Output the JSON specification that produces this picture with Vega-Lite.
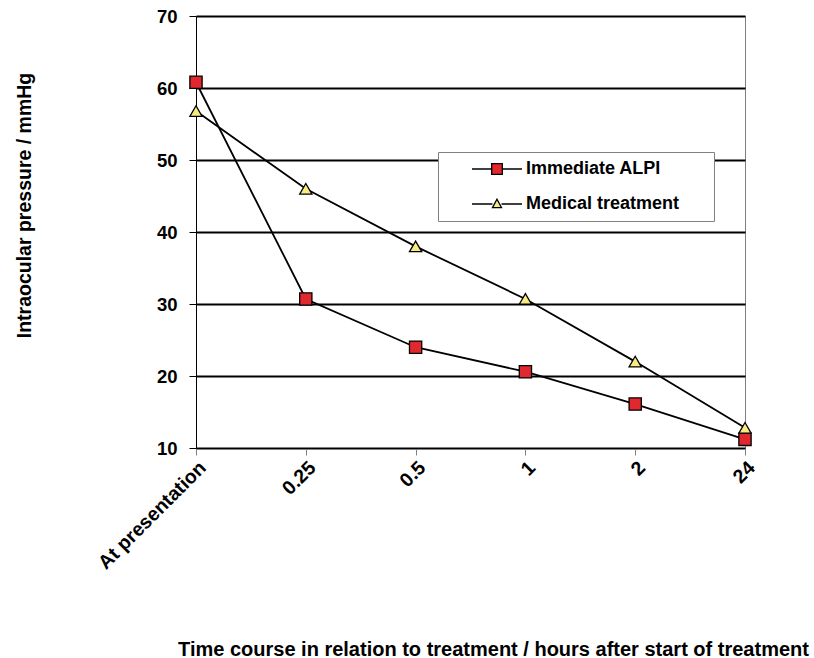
{
  "$schema": "https://vega.github.io/schema/vega-lite/v6.json",
  "width": 549,
  "height": 432,
  "autosize": "none",
  "padding": {"left": 196, "top": 16, "right": 69, "bottom": 210},
  "config": {
    "font": "Liberation Sans",
    "view": {"stroke": "#808080", "strokeWidth": 1},
    "axis": {"labelFont": "Liberation Sans", "titleFont": "Liberation Sans"},
    "legend": {"labelFont": "Liberation Sans"}
  },
  "data": {
    "values": [
      {"time": "At presentation", "series": "Immediate ALPI", "iop": 60.8},
      {"time": "0.25", "series": "Immediate ALPI", "iop": 30.7},
      {"time": "0.5", "series": "Immediate ALPI", "iop": 24.0},
      {"time": "1", "series": "Immediate ALPI", "iop": 20.6},
      {"time": "2", "series": "Immediate ALPI", "iop": 16.1},
      {"time": "24", "series": "Immediate ALPI", "iop": 11.2},
      {"time": "At presentation", "series": "Medical treatment", "iop": 56.8},
      {"time": "0.25", "series": "Medical treatment", "iop": 46.0},
      {"time": "0.5", "series": "Medical treatment", "iop": 38.0},
      {"time": "1", "series": "Medical treatment", "iop": 30.7},
      {"time": "2", "series": "Medical treatment", "iop": 22.0},
      {"time": "24", "series": "Medical treatment", "iop": 12.8}
    ]
  },
  "encoding": {
    "x": {
      "field": "time",
      "type": "ordinal",
      "sort": ["At presentation", "0.25", "0.5", "1", "2", "24"],
      "scale": {"type": "point", "padding": 0},
      "axis": {
        "title": "Time course in relation to treatment / hours after start of treatment",
        "titleFontSize": 20,
        "titleFontWeight": "bold",
        "titleColor": "#000000",
        "titleX": 297,
        "titleY": 207,
        "titleAlign": "center",
        "titleAnchor": null,
        "titleBaseline": "alphabetic",
        "labelAngle": -45,
        "labelFontSize": 19.5,
        "labelFontWeight": "bold",
        "labelColor": "#000000",
        "labelPadding": 3,
        "domainColor": "#000000",
        "domainWidth": 1,
        "tickColor": "#808080",
        "tickSize": 7,
        "grid": false
      }
    },
    "y": {
      "field": "iop",
      "type": "quantitative",
      "scale": {"domain": [10, 70], "nice": false, "zero": false},
      "axis": {
        "title": "Intraocular pressure / mmHg",
        "titleFontSize": 19.5,
        "titleFontWeight": "bold",
        "titleColor": "#000000",
        "titleX": -166,
        "titleY": 189,
        "titleAngle": -90,
        "titleAlign": "center",
        "titleAnchor": null,
        "titleBaseline": "alphabetic",
        "values": [10, 20, 30, 40, 50, 60, 70],
        "labelFontSize": 18.5,
        "labelFontWeight": "bold",
        "labelColor": "#000000",
        "labelPadding": 12,
        "domainColor": "#000000",
        "domainWidth": 1,
        "tickColor": "#000000",
        "tickSize": 7,
        "grid": true,
        "gridColor": "#000000",
        "gridWidth": 2,
        "gridOpacity": 1
      }
    }
  },
  "layer": [
    {
      "mark": {"type": "line", "color": "#000000", "strokeWidth": 1.8},
      "encoding": {"detail": {"field": "series"}}
    },
    {
      "transform": [{"filter": "datum.iop < 0"}],
      "mark": {"type": "point", "filled": true, "stroke": "#000000", "strokeWidth": 1.3, "opacity": 1, "size": 113},
      "encoding": {
        "shape": {
          "field": "series",
          "type": "nominal",
          "scale": {
            "domain": ["Immediate ALPI", "Medical treatment"],
            "range": ["M-4.7,0H-1M1,0H4.7M-1,-1H1V1H-1Z", "M-4.7,0H-0.85M0.85,0H4.7M0,-0.9L0.85,0.7H-0.85Z"]
          }
        },
        "fill": {
          "field": "series",
          "type": "nominal",
          "scale": {"domain": ["Immediate ALPI", "Medical treatment"], "range": ["#e0282e", "#f8eb80"]},
          "legend": {
            "title": null,
            "orient": "none",
            "legendX": 242,
            "legendY": 136,
            "fillColor": "#ffffff",
            "strokeColor": "#808080",
            "padding": 8,
            "rowPadding": 17,
            "labelFontSize": 18,
            "labelFontWeight": "bold",
            "labelColor": "#000000",
            "labelOffset": 20,
            "labelLimit": 300,
            "labelExpr": "datum.label + '\u2800\u2800'",
            "symbolOffset": 42,
            "symbolSize": 113,
            "symbolOpacity": 1,
            "symbolStrokeColor": "#000000",
            "symbolStrokeWidth": 1.3
          }
        }
      }
    },
    {
      "transform": [{"filter": "datum.series === 'Immediate ALPI'"}],
      "mark": {"type": "point", "shape": "square", "filled": true, "fill": "#e0282e", "stroke": "#000000", "strokeWidth": 1.3, "opacity": 1, "size": 150}
    },
    {
      "transform": [{"filter": "datum.series === 'Medical treatment'"}],
      "mark": {"type": "point", "shape": "triangle-up", "filled": true, "fill": "#f8eb80", "stroke": "#000000", "strokeWidth": 1.3, "opacity": 1, "size": 150}
    }
  ]
}
